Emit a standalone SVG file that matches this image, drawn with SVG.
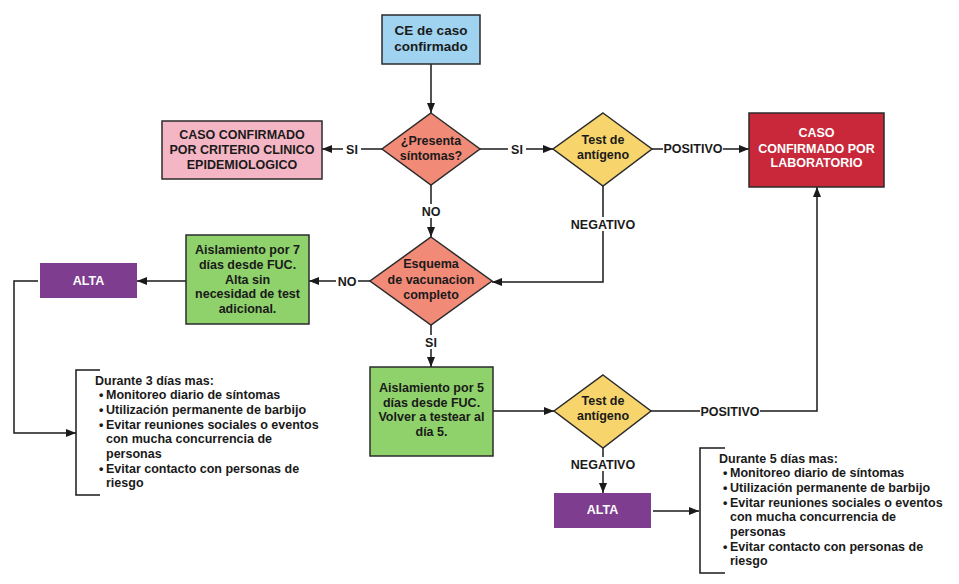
<svg xmlns="http://www.w3.org/2000/svg" width="959" height="584" viewBox="0 0 959 584">
<defs>
<marker id="ah" viewBox="0 0 10 8" refX="10" refY="4" markerWidth="10" markerHeight="8" markerUnits="userSpaceOnUse" orient="auto">
<path d="M0,0 L10,4 L0,8 z" fill="#1a1a1a"/>
</marker>
<style>
text{font-family:"Liberation Sans",Arial,sans-serif;font-weight:bold;font-size:12.5px;fill:#1a1a1a}
.c{text-anchor:middle}
.w{fill:#ffffff}
.node{stroke:#2b2b2b;stroke-width:1.5}
.edge{fill:none;stroke:#1a1a1a;stroke-width:1.5}
.arr{marker-end:url(#ah)}
.lbg{fill:#ffffff}
</style>
</defs>
<rect width="959" height="584" fill="#ffffff"/>

<g id="connectors">
<path class="edge arr" d="M431,64 V113"/>
<path class="edge arr" d="M382,149 H322"/>
<path class="edge arr" d="M480,149 H553"/>
<path class="edge arr" d="M652,149 H749"/>
<path class="edge arr" d="M431,185 V237"/>
<path class="edge arr" d="M603,186 V282 H492"/>
<path class="edge arr" d="M370,281 H309"/>
<path class="edge arr" d="M186,281 H137"/>
<path class="edge arr" d="M38,281 H14 V433 H76"/>
<path class="edge arr" d="M431,325 V367"/>
<path class="edge arr" d="M493,411 H554"/>
<path class="edge arr" d="M651,411 H817 V187"/>
<path class="edge arr" d="M603,448 V493"/>
<path class="edge arr" d="M653,511 H699"/>
<!-- labels -->
<rect class="lbg" x="343" y="142" width="18" height="14"/><text class="c" x="352" y="153.5">SI</text>
<rect class="lbg" x="508" y="142" width="18" height="14"/><text class="c" x="517" y="153.5">SI</text>
<rect class="lbg" x="663" y="142" width="60" height="14"/><text class="c" x="693" y="153">POSITIVO</text>
<rect class="lbg" x="420" y="204" width="22" height="14"/><text class="c" x="431" y="215.5">NO</text>
<rect class="lbg" x="568" y="217" width="70" height="14"/><text class="c" x="603" y="228.5">NEGATIVO</text>
<rect class="lbg" x="336" y="274" width="22" height="14"/><text class="c" x="347" y="285.5">NO</text>
<rect class="lbg" x="422" y="335" width="18" height="14"/><text class="c" x="431" y="346.5">SI</text>
<rect class="lbg" x="700" y="404" width="60" height="14"/><text class="c" x="730" y="415.5">POSITIVO</text>
<rect class="lbg" x="568" y="457" width="70" height="14"/><text class="c" x="603" y="468.5">NEGATIVO</text>
</g>

<g id="ce">
<rect class="node" x="382" y="15" width="98" height="49" fill="#9fd3ef"/>
<text class="c" x="431" y="35" style="font-size:13.5px">CE de caso</text>
<text class="c" x="431" y="51" style="font-size:13.5px">confirmado</text>
</g>

<g id="presenta">
<polygon class="node" points="431,113 480,149 431,185 382,149" fill="#f28a78"/>
<text class="c" x="431" y="145">¿Presenta</text>
<text class="c" x="431" y="160">síntomas?</text>
</g>

<g id="criterio">
<rect class="node" x="162" y="121" width="160" height="58" fill="#f4b6c4"/>
<text class="c" x="242" y="139">CASO CONFIRMADO</text>
<text class="c" x="242" y="154">POR CRITERIO CLINICO</text>
<text class="c" x="242" y="168.5">EPIDEMIOLOGICO</text>
</g>

<g id="test1">
<polygon class="node" points="603,113 652,149 603,186 553,149" fill="#f8d56c"/>
<text class="c" x="603" y="144">Test de</text>
<text class="c" x="603" y="159">antígeno</text>
</g>

<g id="laboratorio">
<rect class="node" x="749" y="113" width="135" height="74" fill="#c8283a"/>
<text class="c w" x="816.5" y="137">CASO</text>
<text class="c w" x="816.5" y="152.5">CONFIRMADO POR</text>
<text class="c w" x="816.5" y="167">LABORATORIO</text>
</g>

<g id="esquema">
<polygon class="node" points="431,237 492,281 431,325 370,281" fill="#f28a78"/>
<text class="c" x="431" y="267.5">Esquema</text>
<text class="c" x="431" y="283.5">de vacunacion</text>
<text class="c" x="431" y="298.5">completo</text>
</g>

<g id="aisl7">
<rect class="node" x="186" y="235" width="123" height="89" fill="#8fd16b"/>
<text class="c" x="247.5" y="253.5">Aislamiento por 7</text>
<text class="c" x="247.5" y="268.5">días desde FUC.</text>
<text class="c" x="247.5" y="283.5">Alta sin</text>
<text class="c" x="247.5" y="298">necesidad de test</text>
<text class="c" x="247.5" y="313">adicional.</text>
</g>

<g id="alta1">
<rect x="40" y="263" width="97" height="35" fill="#7e3d8e"/>
<text class="c w" x="88.5" y="285">ALTA</text>
</g>

<g id="nota3">
<path class="edge" d="M100,370 H76 V495 H100"/>
<text x="95" y="384.5">Durante 3 días mas:</text>
<text x="99" y="399">•</text><text x="106" y="399">Monitoreo diario de síntomas</text>
<text x="99" y="414">•</text><text x="106" y="414">Utilización permanente de barbijo</text>
<text x="99" y="428.5">•</text><text x="106" y="428.5">Evitar reuniones sociales o eventos</text>
<text x="106" y="443.3">con mucha concurrencia de</text>
<text x="106" y="458">personas</text>
<text x="99" y="472.7">•</text><text x="106" y="472.7">Evitar contacto con personas de</text>
<text x="106" y="487.4">riesgo</text>
</g>

<g id="aisl5">
<rect class="node" x="370" y="367" width="123" height="89" fill="#8fd16b"/>
<text class="c" x="431.5" y="391.5">Aislamiento por 5</text>
<text class="c" x="431.5" y="406.5">días desde FUC.</text>
<text class="c" x="431.5" y="421">Volver a testear al</text>
<text class="c" x="431.5" y="436">día 5.</text>
</g>

<g id="test2">
<polygon class="node" points="603,375 651,411 603,448 554,411" fill="#f8d56c"/>
<text class="c" x="603" y="405">Test de</text>
<text class="c" x="603" y="420">antígeno</text>
</g>

<g id="alta2">
<rect x="554" y="493" width="97" height="35" fill="#7e3d8e"/>
<text class="c w" x="602.5" y="514">ALTA</text>
</g>

<g id="nota5">
<path class="edge" d="M725,448 H700 V573 H725"/>
<text x="719" y="462.5">Durante 5 días mas:</text>
<text x="723" y="477.2">•</text><text x="730" y="477.2">Monitoreo diario de síntomas</text>
<text x="723" y="491.9">•</text><text x="730" y="491.9">Utilización permanente de barbijo</text>
<text x="723" y="506.6">•</text><text x="730" y="506.6">Evitar reuniones sociales o eventos</text>
<text x="730" y="521.3">con mucha concurrencia de</text>
<text x="730" y="536">personas</text>
<text x="723" y="550.7">•</text><text x="730" y="550.7">Evitar contacto con personas de</text>
<text x="730" y="565.4">riesgo</text>
</g>
</svg>
